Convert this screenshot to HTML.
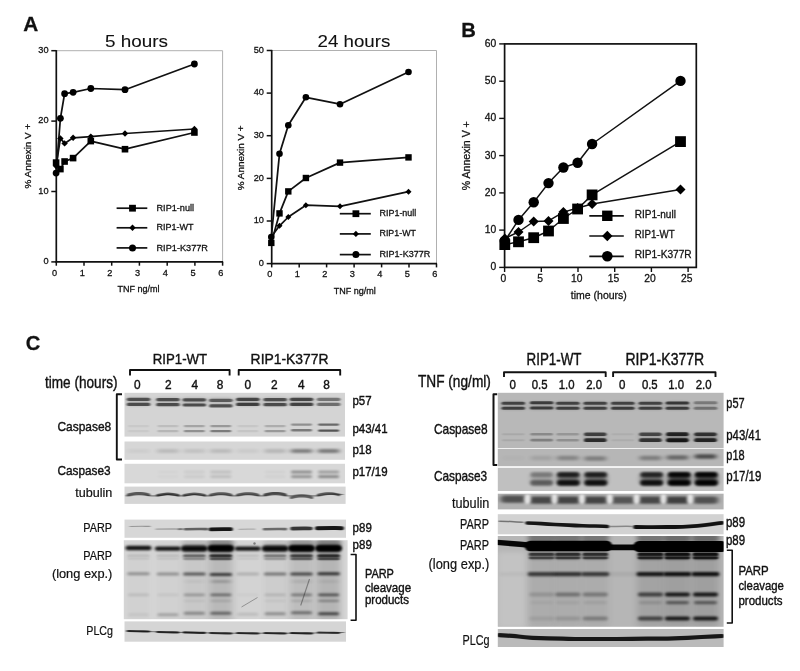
<!DOCTYPE html>
<html><head><meta charset="utf-8"><title>Figure</title>
<style>html,body{margin:0;padding:0;background:#fff}svg{display:block}text{font-family:"Liberation Sans", Arial, Helvetica, sans-serif;fill:#111;stroke:#111;stroke-width:.28px}text.t0{stroke-width:.08px}.pc text{stroke-width:.4px}.pc text.dj{stroke-width:.2px}</style></head><body>
<svg width="800" height="671" viewBox="0 0 800 671">
<defs>
<filter id="b05" filterUnits="userSpaceOnUse" x="100" y="380" width="640" height="280"><feGaussianBlur stdDeviation="0.5"/></filter>
<filter id="b08" filterUnits="userSpaceOnUse" x="100" y="380" width="640" height="280"><feGaussianBlur stdDeviation="1.2 0.75"/></filter>
<filter id="b1" filterUnits="userSpaceOnUse" x="100" y="380" width="640" height="280"><feGaussianBlur stdDeviation="1.8 1.0"/></filter>
<filter id="b15" filterUnits="userSpaceOnUse" x="100" y="380" width="640" height="280"><feGaussianBlur stdDeviation="2.4 1.3"/></filter>
<filter id="b2" filterUnits="userSpaceOnUse" x="100" y="380" width="640" height="280"><feGaussianBlur stdDeviation="2.5 1.5"/></filter>
<filter id="b3" filterUnits="userSpaceOnUse" x="100" y="380" width="640" height="280"><feGaussianBlur stdDeviation="3.5 2.2"/></filter>
</defs>
<rect width="800" height="671" fill="#fff"/>
<text x="23.3" y="31.0" font-size="21" textLength="15.0" lengthAdjust="spacingAndGlyphs" font-weight="bold">A</text>
<text x="461.3" y="37.2" font-size="21" textLength="14.6" lengthAdjust="spacingAndGlyphs" font-weight="bold">B</text>
<text x="25.8" y="350.2" font-size="21" textLength="14.6" lengthAdjust="spacingAndGlyphs" font-weight="bold">C</text>
<line x1="56.3" y1="50.7" x2="222.6" y2="50.7" stroke="#b0b0b0" stroke-width="1"/>
<line x1="222.6" y1="50.7" x2="222.6" y2="261.9" stroke="#b0b0b0" stroke-width="1"/>
<line x1="56.3" y1="50.1" x2="56.3" y2="262.6" stroke="#111" stroke-width="1.7"/>
<line x1="55.5" y1="261.9" x2="223.1" y2="261.9" stroke="#111" stroke-width="1.6"/>
<line x1="51.3" y1="261.9" x2="56.3" y2="261.9" stroke="#111" stroke-width="1.5"/>
<text x="48.5" y="264.2" font-size="9.2" text-anchor="end">0</text>
<line x1="51.3" y1="191.5" x2="56.3" y2="191.5" stroke="#111" stroke-width="1.5"/>
<text x="48.5" y="193.8" font-size="9.2" text-anchor="end">10</text>
<line x1="51.3" y1="121.1" x2="56.3" y2="121.1" stroke="#111" stroke-width="1.5"/>
<text x="48.5" y="123.4" font-size="9.2" text-anchor="end">20</text>
<line x1="51.3" y1="50.7" x2="56.3" y2="50.7" stroke="#111" stroke-width="1.5"/>
<text x="48.5" y="53.0" font-size="9.2" text-anchor="end">30</text>
<line x1="56.3" y1="261.9" x2="56.3" y2="265.7" stroke="#111" stroke-width="1.5"/>
<text x="54.5" y="275.6" font-size="9.2" text-anchor="middle">0</text>
<line x1="84.0" y1="261.9" x2="84.0" y2="265.7" stroke="#111" stroke-width="1.5"/>
<text x="82.2" y="275.6" font-size="9.2" text-anchor="middle">1</text>
<line x1="111.7" y1="261.9" x2="111.7" y2="265.7" stroke="#111" stroke-width="1.5"/>
<text x="109.9" y="275.6" font-size="9.2" text-anchor="middle">2</text>
<line x1="139.4" y1="261.9" x2="139.4" y2="265.7" stroke="#111" stroke-width="1.5"/>
<text x="137.6" y="275.6" font-size="9.2" text-anchor="middle">3</text>
<line x1="167.2" y1="261.9" x2="167.2" y2="265.7" stroke="#111" stroke-width="1.5"/>
<text x="165.4" y="275.6" font-size="9.2" text-anchor="middle">4</text>
<line x1="194.9" y1="261.9" x2="194.9" y2="265.7" stroke="#111" stroke-width="1.5"/>
<text x="193.1" y="275.6" font-size="9.2" text-anchor="middle">5</text>
<line x1="222.6" y1="261.9" x2="222.6" y2="265.7" stroke="#111" stroke-width="1.5"/>
<text x="220.8" y="275.6" font-size="9.2" text-anchor="middle">6</text>
<text x="138.4" y="292.4" font-size="9" text-anchor="middle" textLength="42.0" lengthAdjust="spacingAndGlyphs">TNF ng/ml</text>
<text x="105.0" y="47.3" font-size="17" textLength="63.0" lengthAdjust="spacingAndGlyphs" class="t0">5 hours</text>
<text x="31.1" y="188.5" font-size="9" textLength="64.8" lengthAdjust="spacingAndGlyphs" transform="rotate(-90 31.1 188.5)">% Annexin V +</text>
<polyline fill="none" stroke="#111" stroke-width="1.75" stroke-linejoin="round" points="56.1,166.0 60.4,138.4 64.6,143.4 73.1,137.8 90.8,136.6 125.0,133.5 194.4,129.0"/>
<polyline fill="none" stroke="#111" stroke-width="1.75" stroke-linejoin="round" points="56.1,162.6 60.4,169.1 64.6,161.5 73.1,158.1 90.8,141.1 125.0,149.2 194.4,132.5"/>
<polyline fill="none" stroke="#111" stroke-width="1.75" stroke-linejoin="round" points="56.1,173.1 60.4,118.3 64.6,93.7 73.1,92.3 90.8,88.5 125.0,89.7 194.4,64.0"/>
<path d="M56.1 162.8L59.3 166.0L56.1 169.2L52.9 166.0Z"/>
<path d="M60.4 135.2L63.6 138.4L60.4 141.6L57.2 138.4Z"/>
<path d="M64.6 140.2L67.8 143.4L64.6 146.6L61.4 143.4Z"/>
<path d="M73.1 134.6L76.3 137.8L73.1 141.0L69.9 137.8Z"/>
<path d="M90.8 133.4L94.0 136.6L90.8 139.8L87.6 136.6Z"/>
<path d="M125.0 130.3L128.2 133.5L125.0 136.7L121.8 133.5Z"/>
<path d="M194.4 125.8L197.6 129.0L194.4 132.2L191.2 129.0Z"/>
<rect x="52.8" y="159.3" width="6.6" height="6.6"/>
<rect x="57.1" y="165.8" width="6.6" height="6.6"/>
<rect x="61.3" y="158.2" width="6.6" height="6.6"/>
<rect x="69.8" y="154.8" width="6.6" height="6.6"/>
<rect x="87.5" y="137.8" width="6.6" height="6.6"/>
<rect x="121.7" y="145.9" width="6.6" height="6.6"/>
<rect x="191.1" y="129.2" width="6.6" height="6.6"/>
<circle cx="56.1" cy="173.1" r="3.4"/>
<circle cx="60.4" cy="118.3" r="3.4"/>
<circle cx="64.6" cy="93.7" r="3.4"/>
<circle cx="73.1" cy="92.3" r="3.4"/>
<circle cx="90.8" cy="88.5" r="3.4"/>
<circle cx="125.0" cy="89.7" r="3.4"/>
<circle cx="194.4" cy="64.0" r="3.4"/>
<line x1="116.6" y1="208.2" x2="147.3" y2="208.2" stroke="#111" stroke-width="1.7"/>
<rect x="129.1" y="204.8" width="6.8" height="6.8"/>
<text x="156.5" y="210.8" font-size="9" textLength="37.6" lengthAdjust="spacingAndGlyphs">RIP1-null</text>
<line x1="116.6" y1="227.8" x2="147.3" y2="227.8" stroke="#111" stroke-width="1.7"/>
<path d="M132.5 224.6L135.7 227.8L132.5 231.0L129.3 227.8Z"/>
<text x="156.5" y="230.4" font-size="9" textLength="37.1" lengthAdjust="spacingAndGlyphs">RIP1-WT</text>
<line x1="116.6" y1="247.9" x2="147.3" y2="247.9" stroke="#111" stroke-width="1.7"/>
<circle cx="132.5" cy="247.9" r="3.5"/>
<text x="156.5" y="250.5" font-size="9" textLength="51.5" lengthAdjust="spacingAndGlyphs">RIP1-K377R</text>
<line x1="271.7" y1="50.5" x2="436.5" y2="50.5" stroke="#b0b0b0" stroke-width="1"/>
<line x1="436.5" y1="50.5" x2="436.5" y2="263.6" stroke="#b0b0b0" stroke-width="1"/>
<line x1="271.7" y1="49.9" x2="271.7" y2="264.3" stroke="#111" stroke-width="1.7"/>
<line x1="270.9" y1="263.6" x2="437.0" y2="263.6" stroke="#111" stroke-width="1.6"/>
<line x1="266.7" y1="263.6" x2="271.7" y2="263.6" stroke="#111" stroke-width="1.5"/>
<text x="263.9" y="265.9" font-size="9.2" text-anchor="end">0</text>
<line x1="266.7" y1="221.0" x2="271.7" y2="221.0" stroke="#111" stroke-width="1.5"/>
<text x="263.9" y="223.3" font-size="9.2" text-anchor="end">10</text>
<line x1="266.7" y1="178.4" x2="271.7" y2="178.4" stroke="#111" stroke-width="1.5"/>
<text x="263.9" y="180.7" font-size="9.2" text-anchor="end">20</text>
<line x1="266.7" y1="135.7" x2="271.7" y2="135.7" stroke="#111" stroke-width="1.5"/>
<text x="263.9" y="138.0" font-size="9.2" text-anchor="end">30</text>
<line x1="266.7" y1="93.1" x2="271.7" y2="93.1" stroke="#111" stroke-width="1.5"/>
<text x="263.9" y="95.4" font-size="9.2" text-anchor="end">40</text>
<line x1="266.7" y1="50.5" x2="271.7" y2="50.5" stroke="#111" stroke-width="1.5"/>
<text x="263.9" y="52.8" font-size="9.2" text-anchor="end">50</text>
<line x1="271.7" y1="263.6" x2="271.7" y2="267.4" stroke="#111" stroke-width="1.5"/>
<text x="269.9" y="277.3" font-size="9.2" text-anchor="middle">0</text>
<line x1="299.2" y1="263.6" x2="299.2" y2="267.4" stroke="#111" stroke-width="1.5"/>
<text x="297.4" y="277.3" font-size="9.2" text-anchor="middle">1</text>
<line x1="326.6" y1="263.6" x2="326.6" y2="267.4" stroke="#111" stroke-width="1.5"/>
<text x="324.8" y="277.3" font-size="9.2" text-anchor="middle">2</text>
<line x1="354.1" y1="263.6" x2="354.1" y2="267.4" stroke="#111" stroke-width="1.5"/>
<text x="352.3" y="277.3" font-size="9.2" text-anchor="middle">3</text>
<line x1="381.6" y1="263.6" x2="381.6" y2="267.4" stroke="#111" stroke-width="1.5"/>
<text x="379.8" y="277.3" font-size="9.2" text-anchor="middle">4</text>
<line x1="409.0" y1="263.6" x2="409.0" y2="267.4" stroke="#111" stroke-width="1.5"/>
<text x="407.2" y="277.3" font-size="9.2" text-anchor="middle">5</text>
<line x1="436.5" y1="263.6" x2="436.5" y2="267.4" stroke="#111" stroke-width="1.5"/>
<text x="434.7" y="277.3" font-size="9.2" text-anchor="middle">6</text>
<text x="354.7" y="294.1" font-size="9" text-anchor="middle" textLength="42.0" lengthAdjust="spacingAndGlyphs">TNF ng/ml</text>
<text x="317.5" y="47.3" font-size="17" textLength="72.8" lengthAdjust="spacingAndGlyphs" class="t0">24 hours</text>
<text x="244.4" y="190.2" font-size="9" textLength="64.8" lengthAdjust="spacingAndGlyphs" transform="rotate(-90 244.4 190.2)">% Annexin V +</text>
<polyline fill="none" stroke="#111" stroke-width="1.75" stroke-linejoin="round" points="271.3,236.8 279.5,225.8 288.3,217.0 305.9,205.2 340.0,206.3 408.5,191.7"/>
<polyline fill="none" stroke="#111" stroke-width="1.75" stroke-linejoin="round" points="271.3,242.9 279.5,213.4 288.3,191.4 305.9,178.0 340.0,162.6 408.5,157.4"/>
<polyline fill="none" stroke="#111" stroke-width="1.75" stroke-linejoin="round" points="271.3,237.0 279.5,153.8 288.3,125.3 305.9,97.3 340.0,104.2 408.5,72.0"/>
<path d="M271.3 233.8L274.3 236.8L271.3 239.8L268.3 236.8Z"/>
<path d="M279.5 222.8L282.5 225.8L279.5 228.8L276.5 225.8Z"/>
<path d="M288.3 214.0L291.3 217.0L288.3 220.0L285.3 217.0Z"/>
<path d="M305.9 202.2L308.9 205.2L305.9 208.2L302.9 205.2Z"/>
<path d="M340.0 203.3L343.0 206.3L340.0 209.3L337.0 206.3Z"/>
<path d="M408.5 188.7L411.5 191.7L408.5 194.7L405.5 191.7Z"/>
<rect x="268.1" y="239.7" width="6.4" height="6.4"/>
<rect x="276.3" y="210.2" width="6.4" height="6.4"/>
<rect x="285.1" y="188.2" width="6.4" height="6.4"/>
<rect x="302.7" y="174.8" width="6.4" height="6.4"/>
<rect x="336.8" y="159.4" width="6.4" height="6.4"/>
<rect x="405.3" y="154.2" width="6.4" height="6.4"/>
<circle cx="271.3" cy="237.0" r="3.3"/>
<circle cx="279.5" cy="153.8" r="3.3"/>
<circle cx="288.3" cy="125.3" r="3.3"/>
<circle cx="305.9" cy="97.3" r="3.3"/>
<circle cx="340.0" cy="104.2" r="3.3"/>
<circle cx="408.5" cy="72.0" r="3.3"/>
<line x1="339.8" y1="213.7" x2="370.8" y2="213.7" stroke="#111" stroke-width="1.7"/>
<rect x="352.5" y="210.3" width="6.8" height="6.8"/>
<text x="379.5" y="215.9" font-size="9" textLength="36.8" lengthAdjust="spacingAndGlyphs">RIP1-null</text>
<line x1="339.8" y1="233.9" x2="370.8" y2="233.9" stroke="#111" stroke-width="1.7"/>
<path d="M355.9 230.8L359.0 233.9L355.9 237.0L352.8 233.9Z"/>
<text x="379.5" y="236.1" font-size="9" textLength="36.4" lengthAdjust="spacingAndGlyphs">RIP1-WT</text>
<line x1="339.8" y1="254.6" x2="370.8" y2="254.6" stroke="#111" stroke-width="1.7"/>
<circle cx="355.9" cy="254.6" r="3.5"/>
<text x="379.5" y="256.8" font-size="9" textLength="50.8" lengthAdjust="spacingAndGlyphs">RIP1-K377R</text>
<rect x="504.6" y="43.9" width="191.7" height="223.5" fill="none" stroke="#111" stroke-width="1.7"/>
<line x1="499.2" y1="267.4" x2="504.6" y2="267.4" stroke="#111" stroke-width="1.4"/>
<text x="496.2" y="270.3" font-size="10.3" text-anchor="end">0</text>
<line x1="499.2" y1="230.1" x2="504.6" y2="230.1" stroke="#111" stroke-width="1.4"/>
<text x="496.2" y="233.0" font-size="10.3" text-anchor="end">10</text>
<line x1="499.2" y1="192.9" x2="504.6" y2="192.9" stroke="#111" stroke-width="1.4"/>
<text x="496.2" y="195.8" font-size="10.3" text-anchor="end">20</text>
<line x1="499.2" y1="155.6" x2="504.6" y2="155.6" stroke="#111" stroke-width="1.4"/>
<text x="496.2" y="158.5" font-size="10.3" text-anchor="end">30</text>
<line x1="499.2" y1="118.4" x2="504.6" y2="118.4" stroke="#111" stroke-width="1.4"/>
<text x="496.2" y="121.3" font-size="10.3" text-anchor="end">40</text>
<line x1="499.2" y1="81.2" x2="504.6" y2="81.2" stroke="#111" stroke-width="1.4"/>
<text x="496.2" y="84.1" font-size="10.3" text-anchor="end">50</text>
<line x1="499.2" y1="43.9" x2="504.6" y2="43.9" stroke="#111" stroke-width="1.4"/>
<text x="496.2" y="46.8" font-size="10.3" text-anchor="end">60</text>
<line x1="504.6" y1="267.4" x2="504.6" y2="272.0" stroke="#111" stroke-width="1.4"/>
<text x="503.3" y="281.7" font-size="10.3" text-anchor="middle">0</text>
<line x1="541.3" y1="267.4" x2="541.3" y2="272.0" stroke="#111" stroke-width="1.4"/>
<text x="540.0" y="281.7" font-size="10.3" text-anchor="middle">5</text>
<line x1="578.0" y1="267.4" x2="578.0" y2="272.0" stroke="#111" stroke-width="1.4"/>
<text x="576.7" y="281.7" font-size="10.3" text-anchor="middle">10</text>
<line x1="614.7" y1="267.4" x2="614.7" y2="272.0" stroke="#111" stroke-width="1.4"/>
<text x="613.4" y="281.7" font-size="10.3" text-anchor="middle">15</text>
<line x1="651.4" y1="267.4" x2="651.4" y2="272.0" stroke="#111" stroke-width="1.4"/>
<text x="650.1" y="281.7" font-size="10.3" text-anchor="middle">20</text>
<line x1="688.1" y1="267.4" x2="688.1" y2="272.0" stroke="#111" stroke-width="1.4"/>
<text x="686.8" y="281.7" font-size="10.3" text-anchor="middle">25</text>
<text x="598.8" y="299.3" font-size="10.5" text-anchor="middle" textLength="56.0" lengthAdjust="spacingAndGlyphs">time (hours)</text>
<text x="470.2" y="190.2" font-size="10.2" textLength="69.0" lengthAdjust="spacingAndGlyphs" transform="rotate(-90 470.2 190.2)">% Annexin V +</text>
<polyline fill="none" stroke="#111" stroke-width="1.5" stroke-linejoin="round" points="504.8,238.4 518.5,232.0 533.7,221.5 548.5,220.9 563.4,212.1 577.6,208.0 592.1,204.0 680.5,189.5"/>
<polyline fill="none" stroke="#111" stroke-width="1.5" stroke-linejoin="round" points="504.8,244.6 518.5,241.8 533.7,237.7 548.5,231.0 563.4,218.5 577.6,209.0 592.1,194.9 680.5,141.6"/>
<polyline fill="none" stroke="#111" stroke-width="1.5" stroke-linejoin="round" points="504.8,241.0 518.5,219.9 533.7,202.3 548.5,183.1 563.4,167.5 577.6,162.8 592.1,144.0 680.5,80.9"/>
<path d="M504.8 233.4L509.8 238.4L504.8 243.4L499.8 238.4Z"/>
<path d="M518.5 227.0L523.5 232.0L518.5 237.0L513.5 232.0Z"/>
<path d="M533.7 216.5L538.7 221.5L533.7 226.5L528.7 221.5Z"/>
<path d="M548.5 215.9L553.5 220.9L548.5 225.9L543.5 220.9Z"/>
<path d="M563.4 207.1L568.4 212.1L563.4 217.1L558.4 212.1Z"/>
<path d="M577.6 203.0L582.6 208.0L577.6 213.0L572.6 208.0Z"/>
<path d="M592.1 199.0L597.1 204.0L592.1 209.0L587.1 204.0Z"/>
<path d="M680.5 184.5L685.5 189.5L680.5 194.5L675.5 189.5Z"/>
<rect x="499.4" y="239.2" width="10.8" height="10.8"/>
<rect x="513.1" y="236.4" width="10.8" height="10.8"/>
<rect x="528.3" y="232.3" width="10.8" height="10.8"/>
<rect x="543.1" y="225.6" width="10.8" height="10.8"/>
<rect x="558.0" y="213.1" width="10.8" height="10.8"/>
<rect x="572.2" y="203.6" width="10.8" height="10.8"/>
<rect x="586.7" y="189.5" width="10.8" height="10.8"/>
<rect x="675.1" y="136.2" width="10.8" height="10.8"/>
<circle cx="504.8" cy="241.0" r="5.2"/>
<circle cx="518.5" cy="219.9" r="5.2"/>
<circle cx="533.7" cy="202.3" r="5.2"/>
<circle cx="548.5" cy="183.1" r="5.2"/>
<circle cx="563.4" cy="167.5" r="5.2"/>
<circle cx="577.6" cy="162.8" r="5.2"/>
<circle cx="592.1" cy="144.0" r="5.2"/>
<circle cx="680.5" cy="80.9" r="5.2"/>
<line x1="589.3" y1="215.8" x2="623.8" y2="215.8" stroke="#111" stroke-width="1.7"/>
<rect x="602.1" y="210.6" width="10.4" height="10.4"/>
<text x="634.7" y="218.0" font-size="10" textLength="41.2" lengthAdjust="spacingAndGlyphs">RIP1-null</text>
<line x1="589.3" y1="236.0" x2="623.8" y2="236.0" stroke="#111" stroke-width="1.7"/>
<path d="M607.3 230.8L612.5 236.0L607.3 241.2L602.1 236.0Z"/>
<text x="634.7" y="237.6" font-size="10" textLength="40.0" lengthAdjust="spacingAndGlyphs">RIP1-WT</text>
<line x1="589.3" y1="256.3" x2="623.8" y2="256.3" stroke="#111" stroke-width="1.7"/>
<circle cx="607.3" cy="256.3" r="5.3"/>
<text x="634.7" y="257.9" font-size="10" textLength="57.0" lengthAdjust="spacingAndGlyphs">RIP1-K377R</text>
<clipPath id="cp1"><rect x="124.5" y="392.8" width="220.5" height="43.8"/></clipPath>
<rect x="124.5" y="392.8" width="220.5" height="43.8" fill="#d4d4d4"/>
<g clip-path="url(#cp1)">

<rect x="126.8" y="397.7" width="23.5" height="3.2" rx="1.6" fill="#000" opacity="0.58" filter="url(#b08)"/>
<rect x="156.2" y="398.0" width="23.5" height="3.2" rx="1.6" fill="#000" opacity="0.58" filter="url(#b08)"/>
<rect x="182.6" y="398.2" width="23.5" height="3.2" rx="1.6" fill="#000" opacity="0.58" filter="url(#b08)"/>
<rect x="209.1" y="398.7" width="23.5" height="3.2" rx="1.6" fill="#000" opacity="0.52" filter="url(#b08)"/>
<rect x="236.1" y="397.7" width="23.5" height="3.2" rx="1.6" fill="#000" opacity="0.62" filter="url(#b08)"/>
<rect x="263.4" y="398.0" width="23.5" height="3.2" rx="1.6" fill="#000" opacity="0.58" filter="url(#b08)"/>
<rect x="289.8" y="397.7" width="23.5" height="3.2" rx="1.6" fill="#000" opacity="0.62" filter="url(#b08)"/>
<rect x="316.9" y="397.7" width="23.5" height="3.2" rx="1.6" fill="#000" opacity="0.42" filter="url(#b08)"/>
<rect x="126.8" y="402.8" width="23.5" height="3.2" rx="1.6" fill="#000" opacity="0.60" filter="url(#b08)"/>
<rect x="156.2" y="403.1" width="23.5" height="3.2" rx="1.6" fill="#000" opacity="0.60" filter="url(#b08)"/>
<rect x="182.6" y="403.4" width="23.5" height="3.2" rx="1.6" fill="#000" opacity="0.60" filter="url(#b08)"/>
<rect x="209.1" y="404.3" width="23.5" height="3.2" rx="1.6" fill="#000" opacity="0.60" filter="url(#b08)"/>
<rect x="236.1" y="402.8" width="23.5" height="3.2" rx="1.6" fill="#000" opacity="0.66" filter="url(#b08)"/>
<rect x="263.4" y="403.1" width="23.5" height="3.2" rx="1.6" fill="#000" opacity="0.60" filter="url(#b08)"/>
<rect x="289.8" y="402.8" width="23.5" height="3.2" rx="1.6" fill="#000" opacity="0.64" filter="url(#b08)"/>
<rect x="316.9" y="402.8" width="23.5" height="3.2" rx="1.6" fill="#000" opacity="0.45" filter="url(#b08)"/>
<rect x="126.5" y="397.3" width="24.0" height="9.0" rx="3.0" fill="#000" opacity="0.12" filter="url(#b15)"/>
<rect x="155.9" y="397.3" width="24.0" height="9.0" rx="3.0" fill="#000" opacity="0.12" filter="url(#b15)"/>
<rect x="182.3" y="397.3" width="24.0" height="9.0" rx="3.0" fill="#000" opacity="0.12" filter="url(#b15)"/>
<rect x="208.8" y="397.3" width="24.0" height="9.0" rx="3.0" fill="#000" opacity="0.10" filter="url(#b15)"/>
<rect x="235.8" y="397.3" width="24.0" height="9.0" rx="3.0" fill="#000" opacity="0.14" filter="url(#b15)"/>
<rect x="263.1" y="397.3" width="24.0" height="9.0" rx="3.0" fill="#000" opacity="0.12" filter="url(#b15)"/>
<rect x="289.5" y="397.3" width="24.0" height="9.0" rx="3.0" fill="#000" opacity="0.14" filter="url(#b15)"/>
<rect x="316.6" y="397.3" width="24.0" height="9.0" rx="3.0" fill="#000" opacity="0.05" filter="url(#b15)"/>
<rect x="128.0" y="425.0" width="21.0" height="2.2" rx="1.1" fill="#000" opacity="0.05" filter="url(#b08)"/>
<rect x="157.4" y="425.0" width="21.0" height="2.2" rx="1.1" fill="#000" opacity="0.10" filter="url(#b08)"/>
<rect x="183.8" y="425.0" width="21.0" height="2.2" rx="1.1" fill="#000" opacity="0.22" filter="url(#b08)"/>
<rect x="210.3" y="425.0" width="21.0" height="2.2" rx="1.1" fill="#000" opacity="0.28" filter="url(#b08)"/>
<rect x="237.3" y="425.0" width="21.0" height="2.2" rx="1.1" fill="#000" opacity="0.06" filter="url(#b08)"/>
<rect x="264.6" y="425.0" width="21.0" height="2.2" rx="1.1" fill="#000" opacity="0.18" filter="url(#b08)"/>
<rect x="291.0" y="423.5" width="21.0" height="2.2" rx="1.1" fill="#000" opacity="0.32" filter="url(#b08)"/>
<rect x="318.1" y="423.5" width="21.0" height="2.2" rx="1.1" fill="#000" opacity="0.50" filter="url(#b08)"/>
<rect x="128.0" y="429.9" width="21.0" height="2.4" rx="1.2" fill="#000" opacity="0.05" filter="url(#b08)"/>
<rect x="157.4" y="429.9" width="21.0" height="2.4" rx="1.2" fill="#000" opacity="0.14" filter="url(#b08)"/>
<rect x="183.8" y="429.9" width="21.0" height="2.4" rx="1.2" fill="#000" opacity="0.32" filter="url(#b08)"/>
<rect x="210.3" y="429.9" width="21.0" height="2.4" rx="1.2" fill="#000" opacity="0.42" filter="url(#b08)"/>
<rect x="237.3" y="429.9" width="21.0" height="2.4" rx="1.2" fill="#000" opacity="0.07" filter="url(#b08)"/>
<rect x="264.6" y="429.9" width="21.0" height="2.4" rx="1.2" fill="#000" opacity="0.28" filter="url(#b08)"/>
<rect x="291.0" y="429.1" width="21.0" height="2.4" rx="1.2" fill="#000" opacity="0.42" filter="url(#b08)"/>
<rect x="318.1" y="429.4" width="21.0" height="2.4" rx="1.2" fill="#000" opacity="0.60" filter="url(#b08)"/>
</g>
<clipPath id="cp2"><rect x="124.5" y="441.5" width="220.5" height="18.3"/></clipPath>
<rect x="124.5" y="441.5" width="220.5" height="18.3" fill="#d6d6d6"/>
<g clip-path="url(#cp2)">

<rect x="127.5" y="449.0" width="22.0" height="4.0" rx="2.0" fill="#000" opacity="0.04" filter="url(#b15)"/>
<rect x="156.9" y="449.0" width="22.0" height="4.0" rx="2.0" fill="#000" opacity="0.12" filter="url(#b15)"/>
<rect x="183.3" y="449.0" width="22.0" height="4.0" rx="2.0" fill="#000" opacity="0.09" filter="url(#b15)"/>
<rect x="209.8" y="449.0" width="22.0" height="4.0" rx="2.0" fill="#000" opacity="0.12" filter="url(#b15)"/>
<rect x="236.8" y="449.0" width="22.0" height="4.0" rx="2.0" fill="#000" opacity="0.05" filter="url(#b15)"/>
<rect x="264.1" y="449.0" width="22.0" height="4.0" rx="2.0" fill="#000" opacity="0.14" filter="url(#b15)"/>
<rect x="290.5" y="449.0" width="22.0" height="4.0" rx="2.0" fill="#000" opacity="0.40" filter="url(#b15)"/>
<rect x="317.6" y="449.0" width="22.0" height="4.0" rx="2.0" fill="#000" opacity="0.42" filter="url(#b15)"/>
</g>
<clipPath id="cp3"><rect x="124.5" y="463.8" width="220.5" height="19.5"/></clipPath>
<rect x="124.5" y="463.8" width="220.5" height="19.5" fill="#d8d8d8"/>
<g clip-path="url(#cp3)">

<rect x="157.4" y="470.7" width="21.0" height="2.6" rx="1.3" fill="#000" opacity="0.02" filter="url(#b1)"/>
<rect x="183.8" y="470.7" width="21.0" height="2.6" rx="1.3" fill="#000" opacity="0.06" filter="url(#b1)"/>
<rect x="210.3" y="470.7" width="21.0" height="2.6" rx="1.3" fill="#000" opacity="0.12" filter="url(#b1)"/>
<rect x="264.6" y="470.7" width="21.0" height="2.6" rx="1.3" fill="#000" opacity="0.03" filter="url(#b1)"/>
<rect x="291.0" y="470.7" width="21.0" height="2.6" rx="1.3" fill="#000" opacity="0.38" filter="url(#b1)"/>
<rect x="318.1" y="470.7" width="21.0" height="2.6" rx="1.3" fill="#000" opacity="0.30" filter="url(#b1)"/>
<rect x="157.4" y="475.3" width="21.0" height="2.6" rx="1.3" fill="#000" opacity="0.02" filter="url(#b1)"/>
<rect x="183.8" y="475.3" width="21.0" height="2.6" rx="1.3" fill="#000" opacity="0.06" filter="url(#b1)"/>
<rect x="210.3" y="475.3" width="21.0" height="2.6" rx="1.3" fill="#000" opacity="0.12" filter="url(#b1)"/>
<rect x="264.6" y="475.3" width="21.0" height="2.6" rx="1.3" fill="#000" opacity="0.03" filter="url(#b1)"/>
<rect x="291.0" y="475.3" width="21.0" height="2.6" rx="1.3" fill="#000" opacity="0.33" filter="url(#b1)"/>
<rect x="318.1" y="475.3" width="21.0" height="2.6" rx="1.3" fill="#000" opacity="0.38" filter="url(#b1)"/>
</g>
<clipPath id="cp4"><rect x="124.5" y="486.6" width="221.1" height="17.3"/></clipPath>
<rect x="124.5" y="486.6" width="221.1" height="17.3" fill="#d5d5d5"/>
<g clip-path="url(#cp4)">
<path d="M126.0 495.5 Q125.5 496.6 132.0 495.3 Q138.5 494.0 146.7 495.3 Q154.9 496.6 161.4 495.3 Q167.9 494.0 174.6 495.3 Q181.3 496.6 187.8 495.3 Q194.3 494.0 201.1 495.3 Q207.8 496.6 214.3 495.3 Q220.8 494.0 227.8 495.3 Q234.8 496.6 241.3 495.3 Q247.8 494.0 255.0 495.3 Q262.1 496.6 268.6 495.3 Q275.1 494.0 281.8 495.3 Q288.5 496.6 295.0 495.3 Q301.5 494.0 308.6 495.3 Q315.6 496.6 322.1 495.3 Q328.6 494.0 335.8 494.2 L343.0 494.5" fill="none" stroke="#000" stroke-width="1.2" stroke-linecap="round" opacity="0.45" filter="url(#b08)"/><path d="M128.0 494.7 Q133.2 493.4 135.9 493.3 Q138.5 493.2 141.1 493.3 Q143.8 493.4 146.4 494.0 L149.0 494.7" fill="none" stroke="#000" stroke-width="2.5" stroke-linecap="round" opacity="0.59" filter="url(#b08)"/><path d="M157.4 495.3 Q162.7 494.0 165.3 493.9 Q167.9 493.8 170.5 493.9 Q173.2 494.0 175.8 494.6 L178.4 495.3" fill="none" stroke="#000" stroke-width="2.5" stroke-linecap="round" opacity="0.65" filter="url(#b08)"/><path d="M183.8 495.3 Q189.1 494.0 191.7 493.9 Q194.3 493.8 196.9 493.9 Q199.6 494.0 202.2 494.6 L204.8 495.3" fill="none" stroke="#000" stroke-width="2.5" stroke-linecap="round" opacity="0.59" filter="url(#b08)"/><path d="M210.3 494.9 Q215.6 493.6 218.2 493.5 Q220.8 493.4 223.4 493.5 Q226.1 493.6 228.7 494.2 L231.3 494.9" fill="none" stroke="#000" stroke-width="2.5" stroke-linecap="round" opacity="0.59" filter="url(#b08)"/><path d="M237.3 494.9 Q242.6 493.6 245.2 493.5 Q247.8 493.4 250.4 493.5 Q253.1 493.6 255.7 494.2 L258.3 494.9" fill="none" stroke="#000" stroke-width="2.5" stroke-linecap="round" opacity="0.59" filter="url(#b08)"/><path d="M264.6 494.7 Q269.9 493.4 272.5 493.3 Q275.1 493.2 277.7 493.3 Q280.4 493.4 283.0 494.0 L285.6 494.7" fill="none" stroke="#000" stroke-width="2.5" stroke-linecap="round" opacity="0.66" filter="url(#b08)"/><path d="M291.0 497.7 Q296.2 496.4 298.9 496.3 Q301.5 496.2 304.1 496.3 Q306.8 496.4 309.4 497.0 L312.0 497.7" fill="none" stroke="#000" stroke-width="2.5" stroke-linecap="round" opacity="0.57" filter="url(#b08)"/><path d="M318.1 495.0 Q323.4 493.7 326.0 493.6 Q328.6 493.5 331.2 493.6 Q333.9 493.7 336.5 494.4 L339.1 495.0" fill="none" stroke="#000" stroke-width="2.5" stroke-linecap="round" opacity="0.59" filter="url(#b08)"/>
</g>
<clipPath id="cp5"><rect x="124.5" y="519.6" width="221.5" height="18.2"/></clipPath>
<rect x="124.5" y="519.6" width="221.5" height="18.2" fill="#d7d7d7"/>
<g clip-path="url(#cp5)">
<path d="M130.0 526.5 Q140.0 526.2 145.0 526.3 L150.0 526.4" fill="none" stroke="#000" stroke-width="1.2" stroke-linecap="round" opacity="0.30" filter="url(#b08)"/><path d="M156.0 529.2 Q168.5 528.9 174.8 529.0 L181.0 529.1" fill="none" stroke="#000" stroke-width="1.3" stroke-linecap="round" opacity="0.25" filter="url(#b08)"/><path d="M179.0 529.3 Q180.8 529.0 181.6 529.1 L182.5 529.2" fill="none" stroke="#000" stroke-width="2" stroke-linecap="round" opacity="0.35" filter="url(#b08)"/><path d="M185.0 529.2 Q196.0 528.9 201.5 529.0 L207.0 529.1" fill="none" stroke="#000" stroke-width="2.6" stroke-linecap="round" opacity="0.55" filter="url(#b08)"/><path d="M210.5 529.3 Q220.8 529.0 225.9 529.1 L231.0 529.2" fill="none" stroke="#000" stroke-width="3.8" stroke-linecap="round" opacity="0.90" filter="url(#b08)"/><path d="M239.0 529.3 Q247.0 529.0 251.0 529.1 L255.0 529.2" fill="none" stroke="#000" stroke-width="1.2" stroke-linecap="round" opacity="0.20" filter="url(#b08)"/><path d="M264.0 529.2 Q275.0 528.9 280.5 529.0 L286.0 529.1" fill="none" stroke="#000" stroke-width="2.6" stroke-linecap="round" opacity="0.50" filter="url(#b08)"/><path d="M292.0 528.6 Q301.5 528.3 306.2 528.4 L311.0 528.5" fill="none" stroke="#000" stroke-width="3.6" stroke-linecap="round" opacity="0.75" filter="url(#b08)"/><path d="M317.0 528.3 Q329.5 528.0 335.8 528.1 L342.0 528.2" fill="none" stroke="#000" stroke-width="4.0" stroke-linecap="round" opacity="0.90" filter="url(#b08)"/>
</g>
<clipPath id="cp6"><rect x="123.8" y="540.2" width="223.8" height="79.0"/></clipPath>
<rect x="123.8" y="540.2" width="223.8" height="79.0" fill="#d8d8d8"/>
<g clip-path="url(#cp6)">
<path d="M241.5 607L257.500 597.5" stroke="#333" stroke-width=".8" opacity=".5" fill="none"/><path d="M300.700 605.5L309.500 579" stroke="#333" stroke-width="1.1" opacity=".45" fill="none"/><circle cx="254.500" cy="543.5" r="1.2" fill="#444" opacity=".6"/>
<rect x="126.0" y="542.0" width="25.0" height="80.0" rx="3.0" fill="#000" opacity="0.03" filter="url(#b3)"/>
<rect x="155.4" y="542.0" width="25.0" height="80.0" rx="3.0" fill="#000" opacity="0.03" filter="url(#b3)"/>
<rect x="181.8" y="542.0" width="25.0" height="80.0" rx="3.0" fill="#000" opacity="0.07" filter="url(#b3)"/>
<rect x="208.3" y="542.0" width="25.0" height="80.0" rx="3.0" fill="#000" opacity="0.14" filter="url(#b3)"/>
<rect x="235.3" y="542.0" width="25.0" height="80.0" rx="3.0" fill="#000" opacity="0.02" filter="url(#b3)"/>
<rect x="262.6" y="542.0" width="25.0" height="80.0" rx="3.0" fill="#000" opacity="0.05" filter="url(#b3)"/>
<rect x="289.0" y="542.0" width="25.0" height="80.0" rx="3.0" fill="#000" opacity="0.12" filter="url(#b3)"/>
<rect x="316.1" y="542.0" width="25.0" height="80.0" rx="3.0" fill="#000" opacity="0.16" filter="url(#b3)"/>
<rect x="181.8" y="539.5" width="25.0" height="7.0" rx="3.0" fill="#000" opacity="0.10" filter="url(#b15)"/>
<rect x="208.3" y="539.5" width="25.0" height="7.0" rx="3.0" fill="#000" opacity="0.30" filter="url(#b15)"/>
<rect x="262.6" y="539.5" width="25.0" height="7.0" rx="3.0" fill="#000" opacity="0.08" filter="url(#b15)"/>
<rect x="289.0" y="539.5" width="25.0" height="7.0" rx="3.0" fill="#000" opacity="0.25" filter="url(#b15)"/>
<rect x="316.1" y="539.5" width="25.0" height="7.0" rx="3.0" fill="#000" opacity="0.35" filter="url(#b15)"/>
<rect x="125.5" y="545.8" width="26.0" height="4.4" rx="2.2" fill="#000" opacity="0.90" filter="url(#b1)"/>
<rect x="154.9" y="546.4" width="26.0" height="4.4" rx="2.2" fill="#000" opacity="0.90" filter="url(#b1)"/>
<rect x="181.3" y="546.4" width="26.0" height="4.4" rx="2.2" fill="#000" opacity="0.93" filter="url(#b1)"/>
<rect x="207.8" y="546.1" width="26.0" height="4.4" rx="2.2" fill="#000" opacity="0.95" filter="url(#b1)"/>
<rect x="234.8" y="546.4" width="26.0" height="4.4" rx="2.2" fill="#000" opacity="0.90" filter="url(#b1)"/>
<rect x="262.1" y="546.4" width="26.0" height="4.4" rx="2.2" fill="#000" opacity="0.93" filter="url(#b1)"/>
<rect x="288.5" y="546.1" width="26.0" height="4.4" rx="2.2" fill="#000" opacity="0.95" filter="url(#b1)"/>
<rect x="315.6" y="546.1" width="26.0" height="4.4" rx="2.2" fill="#000" opacity="0.96" filter="url(#b1)"/>
<rect x="181.8" y="544.9" width="25.0" height="7.2" rx="3.0" fill="#000" opacity="0.60" filter="url(#b1)"/>
<rect x="208.3" y="544.9" width="25.0" height="7.2" rx="3.0" fill="#000" opacity="0.92" filter="url(#b1)"/>
<rect x="262.6" y="544.9" width="25.0" height="7.2" rx="3.0" fill="#000" opacity="0.60" filter="url(#b1)"/>
<rect x="289.0" y="544.9" width="25.0" height="7.2" rx="3.0" fill="#000" opacity="0.92" filter="url(#b1)"/>
<rect x="316.1" y="544.9" width="25.0" height="7.2" rx="3.0" fill="#000" opacity="0.95" filter="url(#b1)"/>
<rect x="127.0" y="553.9" width="23.0" height="5.4" rx="2.7" fill="#000" opacity="0.05" filter="url(#b1)"/>
<rect x="156.4" y="553.9" width="23.0" height="5.4" rx="2.7" fill="#000" opacity="0.05" filter="url(#b1)"/>
<rect x="182.8" y="553.9" width="23.0" height="5.4" rx="2.7" fill="#000" opacity="0.30" filter="url(#b1)"/>
<rect x="209.3" y="553.9" width="23.0" height="5.4" rx="2.7" fill="#000" opacity="0.55" filter="url(#b1)"/>
<rect x="236.3" y="553.9" width="23.0" height="5.4" rx="2.7" fill="#000" opacity="0.04" filter="url(#b1)"/>
<rect x="263.6" y="553.9" width="23.0" height="5.4" rx="2.7" fill="#000" opacity="0.25" filter="url(#b1)"/>
<rect x="290.0" y="553.9" width="23.0" height="5.4" rx="2.7" fill="#000" opacity="0.50" filter="url(#b1)"/>
<rect x="317.1" y="553.9" width="23.0" height="5.4" rx="2.7" fill="#000" opacity="0.60" filter="url(#b1)"/>
<rect x="127.5" y="554.5" width="22.0" height="2.2" rx="1.1" fill="#000" opacity="0.03" filter="url(#b08)"/>
<rect x="156.9" y="554.5" width="22.0" height="2.2" rx="1.1" fill="#000" opacity="0.03" filter="url(#b08)"/>
<rect x="183.3" y="554.5" width="22.0" height="2.2" rx="1.1" fill="#000" opacity="0.25" filter="url(#b08)"/>
<rect x="209.8" y="554.5" width="22.0" height="2.2" rx="1.1" fill="#000" opacity="0.45" filter="url(#b08)"/>
<rect x="236.8" y="554.5" width="22.0" height="2.2" rx="1.1" fill="#000" opacity="0.03" filter="url(#b08)"/>
<rect x="264.1" y="554.5" width="22.0" height="2.2" rx="1.1" fill="#000" opacity="0.20" filter="url(#b08)"/>
<rect x="290.5" y="554.5" width="22.0" height="2.2" rx="1.1" fill="#000" opacity="0.35" filter="url(#b08)"/>
<rect x="317.6" y="554.5" width="22.0" height="2.2" rx="1.1" fill="#000" opacity="0.45" filter="url(#b08)"/>
<rect x="127.5" y="558.2" width="22.0" height="2.0" rx="1.0" fill="#000" opacity="0.02" filter="url(#b08)"/>
<rect x="156.9" y="558.2" width="22.0" height="2.0" rx="1.0" fill="#000" opacity="0.02" filter="url(#b08)"/>
<rect x="183.3" y="558.2" width="22.0" height="2.0" rx="1.0" fill="#000" opacity="0.15" filter="url(#b08)"/>
<rect x="209.8" y="558.2" width="22.0" height="2.0" rx="1.0" fill="#000" opacity="0.35" filter="url(#b08)"/>
<rect x="236.8" y="558.2" width="22.0" height="2.0" rx="1.0" fill="#000" opacity="0.02" filter="url(#b08)"/>
<rect x="264.1" y="558.2" width="22.0" height="2.0" rx="1.0" fill="#000" opacity="0.12" filter="url(#b08)"/>
<rect x="290.5" y="558.2" width="22.0" height="2.0" rx="1.0" fill="#000" opacity="0.30" filter="url(#b08)"/>
<rect x="317.6" y="558.2" width="22.0" height="2.0" rx="1.0" fill="#000" opacity="0.40" filter="url(#b08)"/>
<rect x="127.2" y="572.2" width="22.5" height="3.0" rx="1.5" fill="#000" opacity="0.30" filter="url(#b1)"/>
<rect x="156.7" y="572.5" width="22.5" height="3.0" rx="1.5" fill="#000" opacity="0.30" filter="url(#b1)"/>
<rect x="183.1" y="572.5" width="22.5" height="3.0" rx="1.5" fill="#000" opacity="0.55" filter="url(#b1)"/>
<rect x="209.6" y="573.0" width="22.5" height="3.0" rx="1.5" fill="#000" opacity="0.68" filter="url(#b1)"/>
<rect x="236.6" y="572.5" width="22.5" height="3.0" rx="1.5" fill="#000" opacity="0.16" filter="url(#b1)"/>
<rect x="263.9" y="572.5" width="22.5" height="3.0" rx="1.5" fill="#000" opacity="0.42" filter="url(#b1)"/>
<rect x="290.2" y="572.5" width="22.5" height="3.0" rx="1.5" fill="#000" opacity="0.62" filter="url(#b1)"/>
<rect x="317.4" y="572.2" width="22.5" height="3.0" rx="1.5" fill="#000" opacity="0.72" filter="url(#b1)"/>
<rect x="184.3" y="580.0" width="20.0" height="3.0" rx="1.5" fill="#000" opacity="0.04" filter="url(#b15)"/>
<rect x="210.8" y="580.0" width="20.0" height="3.0" rx="1.5" fill="#000" opacity="0.18" filter="url(#b15)"/>
<rect x="291.5" y="580.0" width="20.0" height="3.0" rx="1.5" fill="#000" opacity="0.08" filter="url(#b15)"/>
<rect x="318.6" y="580.0" width="20.0" height="3.0" rx="1.5" fill="#000" opacity="0.06" filter="url(#b15)"/>
<rect x="128.0" y="593.6" width="21.0" height="2.6" rx="1.3" fill="#000" opacity="0.10" filter="url(#b1)"/>
<rect x="157.4" y="593.6" width="21.0" height="2.6" rx="1.3" fill="#000" opacity="0.06" filter="url(#b1)"/>
<rect x="183.8" y="593.6" width="21.0" height="2.6" rx="1.3" fill="#000" opacity="0.25" filter="url(#b1)"/>
<rect x="210.3" y="593.6" width="21.0" height="2.6" rx="1.3" fill="#000" opacity="0.42" filter="url(#b1)"/>
<rect x="237.3" y="593.6" width="21.0" height="2.6" rx="1.3" fill="#000" opacity="0.03" filter="url(#b1)"/>
<rect x="264.6" y="593.6" width="21.0" height="2.6" rx="1.3" fill="#000" opacity="0.12" filter="url(#b1)"/>
<rect x="291.0" y="593.6" width="21.0" height="2.6" rx="1.3" fill="#000" opacity="0.36" filter="url(#b1)"/>
<rect x="318.1" y="593.6" width="21.0" height="2.6" rx="1.3" fill="#000" opacity="0.55" filter="url(#b1)"/>
<rect x="183.8" y="599.7" width="21.0" height="2.2" rx="1.1" fill="#000" opacity="0.06" filter="url(#b1)"/>
<rect x="210.3" y="599.7" width="21.0" height="2.2" rx="1.1" fill="#000" opacity="0.12" filter="url(#b1)"/>
<rect x="264.6" y="599.7" width="21.0" height="2.2" rx="1.1" fill="#000" opacity="0.05" filter="url(#b1)"/>
<rect x="291.0" y="599.7" width="21.0" height="2.2" rx="1.1" fill="#000" opacity="0.12" filter="url(#b1)"/>
<rect x="318.1" y="599.7" width="21.0" height="2.2" rx="1.1" fill="#000" opacity="0.30" filter="url(#b1)"/>
<rect x="128.0" y="613.3" width="21.0" height="3.0" rx="1.5" fill="#000" opacity="0.06" filter="url(#b1)"/>
<rect x="157.4" y="613.3" width="21.0" height="3.0" rx="1.5" fill="#000" opacity="0.22" filter="url(#b1)"/>
<rect x="183.8" y="611.8" width="21.0" height="3.0" rx="1.5" fill="#000" opacity="0.32" filter="url(#b1)"/>
<rect x="210.3" y="611.8" width="21.0" height="3.0" rx="1.5" fill="#000" opacity="0.46" filter="url(#b1)"/>
<rect x="237.3" y="612.8" width="21.0" height="3.0" rx="1.5" fill="#000" opacity="0.10" filter="url(#b1)"/>
<rect x="264.6" y="612.3" width="21.0" height="3.0" rx="1.5" fill="#000" opacity="0.30" filter="url(#b1)"/>
<rect x="291.0" y="611.3" width="21.0" height="3.0" rx="1.5" fill="#000" opacity="0.42" filter="url(#b1)"/>
<rect x="318.1" y="612.3" width="21.0" height="3.0" rx="1.5" fill="#000" opacity="0.62" filter="url(#b1)"/>
</g>
<clipPath id="cp7"><rect x="124.5" y="621.4" width="221.5" height="20.3"/></clipPath>
<rect x="124.5" y="621.4" width="221.5" height="20.3" fill="#d5d5d5"/>
<g clip-path="url(#cp7)">
<path d="M126.0 631.0 Q138.5 631.2 153.2 631.7 Q167.9 632.2 181.1 632.4 Q194.3 632.6 207.6 632.9 Q220.8 633.2 234.3 633.2 Q247.8 633.2 261.5 633.2 Q275.1 633.2 288.3 633.2 Q301.5 633.2 315.1 633.0 Q328.6 632.7 336.3 632.6 L344.0 632.5" fill="none" stroke="#000" stroke-width="1.0" stroke-linecap="round" opacity="0.50" filter="url(#b08)"/><path d="M128.0 631.0 Q138.5 631.2 143.8 631.4 L149.0 631.5" fill="none" stroke="#000" stroke-width="2.2" stroke-linecap="round" opacity="0.76" filter="url(#b08)"/><path d="M157.4 632.0 Q167.9 632.2 173.2 632.4 L178.4 632.5" fill="none" stroke="#000" stroke-width="2.2" stroke-linecap="round" opacity="0.76" filter="url(#b08)"/><path d="M183.8 632.4 Q194.3 632.6 199.6 632.8 L204.8 632.9" fill="none" stroke="#000" stroke-width="2.2" stroke-linecap="round" opacity="0.74" filter="url(#b08)"/><path d="M210.3 633.0 Q220.8 633.2 226.1 633.4 L231.3 633.5" fill="none" stroke="#000" stroke-width="2.2" stroke-linecap="round" opacity="0.74" filter="url(#b08)"/><path d="M237.3 633.0 Q247.8 633.2 253.1 633.4 L258.3 633.5" fill="none" stroke="#000" stroke-width="2.2" stroke-linecap="round" opacity="0.74" filter="url(#b08)"/><path d="M264.6 633.0 Q275.1 633.2 280.4 633.4 L285.6 633.5" fill="none" stroke="#000" stroke-width="2.2" stroke-linecap="round" opacity="0.74" filter="url(#b08)"/><path d="M291.0 633.0 Q301.5 633.2 306.8 633.4 L312.0 633.5" fill="none" stroke="#000" stroke-width="2.2" stroke-linecap="round" opacity="0.78" filter="url(#b08)"/><path d="M318.1 632.5 Q328.6 632.7 333.9 632.9 L339.1 633.0" fill="none" stroke="#000" stroke-width="2.2" stroke-linecap="round" opacity="0.68" filter="url(#b08)"/>
</g>
<clipPath id="cp11"><rect x="497.8" y="392.8" width="225.8" height="55.2"/></clipPath>
<rect x="497.8" y="392.8" width="225.8" height="55.2" fill="#b8b8b8"/>
<g clip-path="url(#cp11)">

<rect x="501.5" y="401.7" width="23.5" height="3.0" rx="1.5" fill="#000" opacity="0.60" filter="url(#b08)"/>
<rect x="529.9" y="401.2" width="23.5" height="3.0" rx="1.5" fill="#000" opacity="0.64" filter="url(#b08)"/>
<rect x="556.0" y="401.7" width="23.5" height="3.0" rx="1.5" fill="#000" opacity="0.60" filter="url(#b08)"/>
<rect x="583.5" y="401.7" width="23.5" height="3.0" rx="1.5" fill="#000" opacity="0.60" filter="url(#b08)"/>
<rect x="611.0" y="401.7" width="23.5" height="3.0" rx="1.5" fill="#000" opacity="0.60" filter="url(#b08)"/>
<rect x="638.6" y="401.7" width="23.5" height="3.0" rx="1.5" fill="#000" opacity="0.60" filter="url(#b08)"/>
<rect x="665.6" y="401.4" width="23.5" height="3.0" rx="1.5" fill="#000" opacity="0.66" filter="url(#b08)"/>
<rect x="693.8" y="401.2" width="23.5" height="3.0" rx="1.5" fill="#000" opacity="0.30" filter="url(#b08)"/>
<rect x="501.5" y="406.8" width="23.5" height="3.0" rx="1.5" fill="#000" opacity="0.62" filter="url(#b08)"/>
<rect x="529.9" y="406.5" width="23.5" height="3.0" rx="1.5" fill="#000" opacity="0.64" filter="url(#b08)"/>
<rect x="556.0" y="406.8" width="23.5" height="3.0" rx="1.5" fill="#000" opacity="0.62" filter="url(#b08)"/>
<rect x="583.5" y="406.8" width="23.5" height="3.0" rx="1.5" fill="#000" opacity="0.62" filter="url(#b08)"/>
<rect x="611.0" y="406.8" width="23.5" height="3.0" rx="1.5" fill="#000" opacity="0.64" filter="url(#b08)"/>
<rect x="638.6" y="406.8" width="23.5" height="3.0" rx="1.5" fill="#000" opacity="0.62" filter="url(#b08)"/>
<rect x="665.6" y="406.8" width="23.5" height="3.0" rx="1.5" fill="#000" opacity="0.64" filter="url(#b08)"/>
<rect x="693.8" y="406.8" width="23.5" height="3.0" rx="1.5" fill="#000" opacity="0.35" filter="url(#b08)"/>
<rect x="501.3" y="401.3" width="24.0" height="9.0" rx="3.0" fill="#000" opacity="0.10" filter="url(#b15)"/>
<rect x="529.6" y="401.3" width="24.0" height="9.0" rx="3.0" fill="#000" opacity="0.10" filter="url(#b15)"/>
<rect x="555.8" y="401.3" width="24.0" height="9.0" rx="3.0" fill="#000" opacity="0.10" filter="url(#b15)"/>
<rect x="583.3" y="401.3" width="24.0" height="9.0" rx="3.0" fill="#000" opacity="0.10" filter="url(#b15)"/>
<rect x="610.8" y="401.3" width="24.0" height="9.0" rx="3.0" fill="#000" opacity="0.10" filter="url(#b15)"/>
<rect x="638.4" y="401.3" width="24.0" height="9.0" rx="3.0" fill="#000" opacity="0.10" filter="url(#b15)"/>
<rect x="665.4" y="401.3" width="24.0" height="9.0" rx="3.0" fill="#000" opacity="0.12" filter="url(#b15)"/>
<rect x="693.5" y="401.3" width="24.0" height="9.0" rx="3.0" fill="#000" opacity="0.05" filter="url(#b15)"/>
<rect x="502.0" y="433.2" width="22.5" height="2.0" rx="1.0" fill="#000" opacity="0.08" filter="url(#b08)"/>
<rect x="530.4" y="432.9" width="22.5" height="2.6" rx="1.3" fill="#000" opacity="0.25" filter="url(#b08)"/>
<rect x="556.5" y="433.0" width="22.5" height="2.4" rx="1.2" fill="#000" opacity="0.18" filter="url(#b08)"/>
<rect x="584.0" y="432.4" width="22.5" height="3.5" rx="1.8" fill="#000" opacity="0.62" filter="url(#b08)"/>
<rect x="611.5" y="433.2" width="22.5" height="2.0" rx="1.0" fill="#000" opacity="0.05" filter="url(#b08)"/>
<rect x="639.1" y="432.4" width="22.5" height="3.5" rx="1.8" fill="#000" opacity="0.58" filter="url(#b08)"/>
<rect x="666.1" y="432.3" width="22.5" height="3.8" rx="1.9" fill="#000" opacity="0.76" filter="url(#b08)"/>
<rect x="694.2" y="432.4" width="22.5" height="3.6" rx="1.8" fill="#000" opacity="0.66" filter="url(#b08)"/>
<rect x="502.0" y="439.2" width="22.5" height="2.0" rx="1.0" fill="#000" opacity="0.08" filter="url(#b08)"/>
<rect x="530.4" y="438.8" width="22.5" height="2.8" rx="1.4" fill="#000" opacity="0.30" filter="url(#b08)"/>
<rect x="556.5" y="439.0" width="22.5" height="2.4" rx="1.2" fill="#000" opacity="0.22" filter="url(#b08)"/>
<rect x="584.0" y="438.3" width="22.5" height="3.7" rx="1.9" fill="#000" opacity="0.74" filter="url(#b08)"/>
<rect x="611.5" y="439.2" width="22.5" height="2.0" rx="1.0" fill="#000" opacity="0.06" filter="url(#b08)"/>
<rect x="639.1" y="438.3" width="22.5" height="3.7" rx="1.9" fill="#000" opacity="0.70" filter="url(#b08)"/>
<rect x="666.1" y="438.2" width="22.5" height="4.0" rx="2.0" fill="#000" opacity="0.84" filter="url(#b08)"/>
<rect x="694.2" y="438.3" width="22.5" height="3.8" rx="1.9" fill="#000" opacity="0.76" filter="url(#b08)"/>
<rect x="583.8" y="432.7" width="23.0" height="9.0" rx="3.0" fill="#000" opacity="0.10" filter="url(#b15)"/>
<rect x="638.9" y="432.7" width="23.0" height="9.0" rx="3.0" fill="#000" opacity="0.10" filter="url(#b15)"/>
<rect x="665.9" y="432.7" width="23.0" height="9.0" rx="3.0" fill="#000" opacity="0.25" filter="url(#b15)"/>
<rect x="694.0" y="432.7" width="23.0" height="9.0" rx="3.0" fill="#000" opacity="0.25" filter="url(#b15)"/>
</g>
<clipPath id="cp12"><rect x="497.8" y="448.8" width="225.8" height="17.4"/></clipPath>
<rect x="497.8" y="448.8" width="225.8" height="17.4" fill="#b6b6b6"/>
<g clip-path="url(#cp12)">

<rect x="502.3" y="455.8" width="22.0" height="4.4" rx="2.2" fill="#000" opacity="0.02" filter="url(#b15)"/>
<rect x="530.6" y="455.8" width="22.0" height="4.4" rx="2.2" fill="#000" opacity="0.10" filter="url(#b15)"/>
<rect x="556.8" y="455.8" width="22.0" height="4.4" rx="2.2" fill="#000" opacity="0.26" filter="url(#b15)"/>
<rect x="584.3" y="456.3" width="22.0" height="4.4" rx="2.2" fill="#000" opacity="0.30" filter="url(#b15)"/>
<rect x="639.4" y="455.8" width="22.0" height="4.4" rx="2.2" fill="#000" opacity="0.30" filter="url(#b15)"/>
<rect x="666.4" y="455.3" width="22.0" height="4.4" rx="2.2" fill="#000" opacity="0.42" filter="url(#b15)"/>
<rect x="694.5" y="454.3" width="22.0" height="4.4" rx="2.2" fill="#000" opacity="0.58" filter="url(#b15)"/>
</g>
<clipPath id="cp13"><rect x="497.8" y="467.8" width="225.8" height="23.2"/></clipPath>
<rect x="497.8" y="467.8" width="225.8" height="23.2" fill="#c0c0c0"/>
<g clip-path="url(#cp13)">

<rect x="530.4" y="472.0" width="22.5" height="5.2" rx="2.6" fill="#000" opacity="0.28" filter="url(#b1)"/>
<rect x="557.0" y="472.0" width="22.5" height="5.2" rx="2.6" fill="#000" opacity="0.74" filter="url(#b1)"/>
<rect x="584.5" y="472.0" width="22.5" height="5.2" rx="2.6" fill="#000" opacity="0.74" filter="url(#b1)"/>
<rect x="640.4" y="472.0" width="22.5" height="5.2" rx="2.6" fill="#000" opacity="0.70" filter="url(#b1)"/>
<rect x="668.0" y="472.0" width="22.5" height="5.2" rx="2.6" fill="#000" opacity="0.90" filter="url(#b1)"/>
<rect x="695.0" y="472.0" width="22.5" height="5.2" rx="2.6" fill="#000" opacity="0.92" filter="url(#b1)"/>
<rect x="530.2" y="479.9" width="22.8" height="5.8" rx="2.9" fill="#000" opacity="0.45" filter="url(#b1)"/>
<rect x="556.9" y="479.9" width="22.8" height="5.8" rx="2.9" fill="#000" opacity="0.86" filter="url(#b1)"/>
<rect x="584.4" y="479.9" width="22.8" height="5.8" rx="2.9" fill="#000" opacity="0.86" filter="url(#b1)"/>
<rect x="640.2" y="479.9" width="22.8" height="5.8" rx="2.9" fill="#000" opacity="0.86" filter="url(#b1)"/>
<rect x="667.8" y="479.9" width="22.8" height="5.8" rx="2.9" fill="#000" opacity="0.95" filter="url(#b1)"/>
<rect x="694.9" y="479.9" width="22.8" height="5.8" rx="2.9" fill="#000" opacity="0.95" filter="url(#b1)"/>
<rect x="530.6" y="473.0" width="22.0" height="12.0" rx="3.0" fill="#000" opacity="0.12" filter="url(#b15)"/>
<rect x="557.3" y="473.0" width="22.0" height="12.0" rx="3.0" fill="#000" opacity="0.40" filter="url(#b15)"/>
<rect x="584.8" y="473.0" width="22.0" height="12.0" rx="3.0" fill="#000" opacity="0.40" filter="url(#b15)"/>
<rect x="640.6" y="473.0" width="22.0" height="12.0" rx="3.0" fill="#000" opacity="0.40" filter="url(#b15)"/>
<rect x="668.2" y="473.0" width="22.0" height="12.0" rx="3.0" fill="#000" opacity="0.62" filter="url(#b15)"/>
<rect x="695.3" y="473.0" width="22.0" height="12.0" rx="3.0" fill="#000" opacity="0.62" filter="url(#b15)"/>
</g>
<clipPath id="cp14"><rect x="497.8" y="493.7" width="225.8" height="15.7"/></clipPath>
<rect x="497.8" y="493.7" width="225.8" height="15.7" fill="#b2b2b2"/>
<g clip-path="url(#cp14)">

<rect x="500.8" y="495.6" width="25.0" height="7.2" rx="3.0" fill="#000" opacity="0.55" filter="url(#b15)"/>
<rect x="529.1" y="496.6" width="25.0" height="7.2" rx="3.0" fill="#000" opacity="0.60" filter="url(#b15)"/>
<rect x="555.3" y="496.6" width="25.0" height="7.2" rx="3.0" fill="#000" opacity="0.62" filter="url(#b15)"/>
<rect x="582.8" y="496.6" width="25.0" height="7.2" rx="3.0" fill="#000" opacity="0.62" filter="url(#b15)"/>
<rect x="610.3" y="496.6" width="25.0" height="7.2" rx="3.0" fill="#000" opacity="0.52" filter="url(#b15)"/>
<rect x="637.9" y="496.6" width="25.0" height="7.2" rx="3.0" fill="#000" opacity="0.60" filter="url(#b15)"/>
<rect x="664.9" y="496.6" width="25.0" height="7.2" rx="3.0" fill="#000" opacity="0.64" filter="url(#b15)"/>
<rect x="693.0" y="496.6" width="25.0" height="7.2" rx="3.0" fill="#000" opacity="0.55" filter="url(#b15)"/>
</g>
<g clip-path="url(#cp14)"><ellipse cx="527.5" cy="499.3" rx="3.2" ry="5" fill="#fff" opacity=".8" filter="url(#b1)"/><ellipse cx="554.5" cy="499.3" rx="3.2" ry="5" fill="#fff" opacity=".8" filter="url(#b1)"/><ellipse cx="582.0" cy="499.3" rx="3.2" ry="5" fill="#fff" opacity=".8" filter="url(#b1)"/><ellipse cx="609.8" cy="499.3" rx="3.2" ry="5" fill="#fff" opacity=".8" filter="url(#b1)"/><ellipse cx="636.6" cy="499.3" rx="3.2" ry="5" fill="#fff" opacity=".8" filter="url(#b1)"/><ellipse cx="663.4" cy="499.3" rx="3.2" ry="5" fill="#fff" opacity=".8" filter="url(#b1)"/><ellipse cx="690.2" cy="499.3" rx="3.2" ry="5" fill="#fff" opacity=".8" filter="url(#b1)"/></g>
<clipPath id="cp15"><rect x="497.8" y="514.2" width="225.8" height="20.1"/></clipPath>
<rect x="497.8" y="514.2" width="225.8" height="20.1" fill="#d2d2d2"/>
<g clip-path="url(#cp15)">
<path d="M499.0 521.2 Q510.0 521.5 516.5 521.9 L523.0 522.2" fill="none" stroke="#000" stroke-width="1.5" stroke-linecap="round" opacity="0.45" filter="url(#b08)"/><path d="M527.0 523.0 Q535.0 523.0 541.5 523.6 Q548.0 524.2 555.0 524.5 Q562.0 524.8 568.5 525.1 Q575.0 525.5 582.5 525.8 Q590.0 526.0 595.0 526.0 Q600.0 526.0 603.8 526.2 L607.5 526.5" fill="none" stroke="#000" stroke-width="3.6" stroke-linecap="round" opacity="0.90" filter="url(#b08)"/><path d="M610.0 526.6 Q622.0 526.3 627.0 526.3 L632.0 526.4" fill="none" stroke="#000" stroke-width="1.5" stroke-linecap="round" opacity="0.35" filter="url(#b08)"/><path d="M635.0 527.0 Q645.0 527.2 652.5 527.1 Q660.0 527.0 667.5 527.0 Q675.0 527.0 682.5 526.8 Q690.0 526.5 697.5 525.8 Q705.0 525.0 710.5 524.3 Q716.0 523.6 719.2 523.2 L722.5 522.8" fill="none" stroke="#000" stroke-width="3.8" stroke-linecap="round" opacity="0.92" filter="url(#b08)"/>
</g>
<clipPath id="cp16"><rect x="497.8" y="536" width="225.8" height="90.8"/></clipPath>
<rect x="497.8" y="536" width="225.8" height="90.8" fill="#b6b6b6"/>
<g clip-path="url(#cp16)">
<rect x="497" y="552" width="30" height="76" fill="#fff" opacity=".18" filter="url(#b3)"/><path d="M497.0 542.4 Q512.0 543.6 520.0 544.3 L528.0 545.0" fill="none" stroke="#000" stroke-width="5.4" stroke-linecap="round" opacity="0.97" filter="url(#b08)"/><path d="M530.0 546.0 L607.0 546.0" fill="none" stroke="#000" stroke-width="10.4" stroke-linecap="round" opacity="1.00" filter="url(#b08)"/><path d="M607.0 547.4 L637.0 547.4" fill="none" stroke="#000" stroke-width="5.8" stroke-linecap="round" opacity="0.97" filter="url(#b08)"/><path d="M639.0 546.5 L722.0 546.5" fill="none" stroke="#000" stroke-width="11.2" stroke-linecap="round" opacity="1.00" filter="url(#b08)"/>
<rect x="528.1" y="543.0" width="27.0" height="84.0" rx="3.0" fill="#000" opacity="0.05" filter="url(#b3)"/>
<rect x="554.3" y="543.0" width="27.0" height="84.0" rx="3.0" fill="#000" opacity="0.05" filter="url(#b3)"/>
<rect x="581.8" y="543.0" width="27.0" height="84.0" rx="3.0" fill="#000" opacity="0.05" filter="url(#b3)"/>
<rect x="636.9" y="543.0" width="27.0" height="84.0" rx="3.0" fill="#000" opacity="0.10" filter="url(#b3)"/>
<rect x="663.9" y="543.0" width="27.0" height="84.0" rx="3.0" fill="#000" opacity="0.12" filter="url(#b3)"/>
<rect x="692.0" y="543.0" width="27.0" height="84.0" rx="3.0" fill="#000" opacity="0.12" filter="url(#b3)"/>
<rect x="528.1" y="534.0" width="27.0" height="8.0" rx="3.0" fill="#000" opacity="0.35" filter="url(#b15)"/>
<rect x="554.3" y="534.0" width="27.0" height="8.0" rx="3.0" fill="#000" opacity="0.35" filter="url(#b15)"/>
<rect x="581.8" y="534.0" width="27.0" height="8.0" rx="3.0" fill="#000" opacity="0.35" filter="url(#b15)"/>
<rect x="636.9" y="534.0" width="27.0" height="8.0" rx="3.0" fill="#000" opacity="0.35" filter="url(#b15)"/>
<rect x="663.9" y="534.0" width="27.0" height="8.0" rx="3.0" fill="#000" opacity="0.40" filter="url(#b15)"/>
<rect x="692.0" y="534.0" width="27.0" height="8.0" rx="3.0" fill="#000" opacity="0.40" filter="url(#b15)"/>
<rect x="528.6" y="551.5" width="26.0" height="8.0" rx="3.0" fill="#000" opacity="0.30" filter="url(#b1)"/>
<rect x="554.8" y="551.5" width="26.0" height="8.0" rx="3.0" fill="#000" opacity="0.35" filter="url(#b1)"/>
<rect x="582.3" y="551.5" width="26.0" height="8.0" rx="3.0" fill="#000" opacity="0.35" filter="url(#b1)"/>
<rect x="637.4" y="551.5" width="26.0" height="8.0" rx="3.0" fill="#000" opacity="0.50" filter="url(#b1)"/>
<rect x="664.4" y="551.5" width="26.0" height="8.0" rx="3.0" fill="#000" opacity="0.55" filter="url(#b1)"/>
<rect x="692.5" y="551.5" width="26.0" height="8.0" rx="3.0" fill="#000" opacity="0.55" filter="url(#b1)"/>
<rect x="529.1" y="553.1" width="25.0" height="2.6" rx="1.3" fill="#000" opacity="0.55" filter="url(#b08)"/>
<rect x="555.3" y="553.1" width="25.0" height="2.6" rx="1.3" fill="#000" opacity="0.60" filter="url(#b08)"/>
<rect x="582.8" y="553.1" width="25.0" height="2.6" rx="1.3" fill="#000" opacity="0.60" filter="url(#b08)"/>
<rect x="637.9" y="553.1" width="25.0" height="2.6" rx="1.3" fill="#000" opacity="0.72" filter="url(#b08)"/>
<rect x="664.9" y="553.1" width="25.0" height="2.6" rx="1.3" fill="#000" opacity="0.78" filter="url(#b08)"/>
<rect x="693.0" y="553.1" width="25.0" height="2.6" rx="1.3" fill="#000" opacity="0.78" filter="url(#b08)"/>
<rect x="529.1" y="556.8" width="25.0" height="2.4" rx="1.2" fill="#000" opacity="0.45" filter="url(#b08)"/>
<rect x="555.3" y="556.8" width="25.0" height="2.4" rx="1.2" fill="#000" opacity="0.50" filter="url(#b08)"/>
<rect x="582.8" y="556.8" width="25.0" height="2.4" rx="1.2" fill="#000" opacity="0.50" filter="url(#b08)"/>
<rect x="637.9" y="556.8" width="25.0" height="2.4" rx="1.2" fill="#000" opacity="0.62" filter="url(#b08)"/>
<rect x="664.9" y="556.8" width="25.0" height="2.4" rx="1.2" fill="#000" opacity="0.68" filter="url(#b08)"/>
<rect x="693.0" y="556.8" width="25.0" height="2.4" rx="1.2" fill="#000" opacity="0.68" filter="url(#b08)"/>
<rect x="499.3" y="571.9" width="28.0" height="4.4" rx="2.2" fill="#000" opacity="0.03" filter="url(#b1)"/>
<rect x="527.6" y="571.9" width="28.0" height="4.4" rx="2.2" fill="#000" opacity="0.66" filter="url(#b1)"/>
<rect x="553.8" y="571.9" width="28.0" height="4.4" rx="2.2" fill="#000" opacity="0.70" filter="url(#b1)"/>
<rect x="581.3" y="571.9" width="28.0" height="4.4" rx="2.2" fill="#000" opacity="0.66" filter="url(#b1)"/>
<rect x="608.8" y="571.9" width="28.0" height="4.4" rx="2.2" fill="#000" opacity="0.06" filter="url(#b1)"/>
<rect x="636.4" y="571.9" width="28.0" height="4.4" rx="2.2" fill="#000" opacity="0.85" filter="url(#b1)"/>
<rect x="663.4" y="571.9" width="28.0" height="4.4" rx="2.2" fill="#000" opacity="0.90" filter="url(#b1)"/>
<rect x="691.5" y="571.9" width="28.0" height="4.4" rx="2.2" fill="#000" opacity="0.90" filter="url(#b1)"/>
<rect x="529.1" y="592.6" width="25.0" height="4.0" rx="2.0" fill="#000" opacity="0.14" filter="url(#b1)"/>
<rect x="555.3" y="592.6" width="25.0" height="4.0" rx="2.0" fill="#000" opacity="0.33" filter="url(#b1)"/>
<rect x="582.8" y="592.6" width="25.0" height="4.0" rx="2.0" fill="#000" opacity="0.30" filter="url(#b1)"/>
<rect x="637.9" y="592.6" width="25.0" height="4.0" rx="2.0" fill="#000" opacity="0.60" filter="url(#b1)"/>
<rect x="664.9" y="592.6" width="25.0" height="4.0" rx="2.0" fill="#000" opacity="0.84" filter="url(#b1)"/>
<rect x="693.0" y="592.6" width="25.0" height="4.0" rx="2.0" fill="#000" opacity="0.86" filter="url(#b1)"/>
<rect x="530.1" y="600.9" width="23.0" height="3.4" rx="1.7" fill="#000" opacity="0.04" filter="url(#b1)"/>
<rect x="556.3" y="600.9" width="23.0" height="3.4" rx="1.7" fill="#000" opacity="0.06" filter="url(#b1)"/>
<rect x="583.8" y="600.9" width="23.0" height="3.4" rx="1.7" fill="#000" opacity="0.07" filter="url(#b1)"/>
<rect x="638.9" y="600.9" width="23.0" height="3.4" rx="1.7" fill="#000" opacity="0.12" filter="url(#b1)"/>
<rect x="665.9" y="600.9" width="23.0" height="3.4" rx="1.7" fill="#000" opacity="0.45" filter="url(#b1)"/>
<rect x="694.0" y="600.9" width="23.0" height="3.4" rx="1.7" fill="#000" opacity="0.45" filter="url(#b1)"/>
<rect x="529.1" y="616.6" width="25.0" height="4.0" rx="2.0" fill="#000" opacity="0.08" filter="url(#b1)"/>
<rect x="555.3" y="616.6" width="25.0" height="4.0" rx="2.0" fill="#000" opacity="0.13" filter="url(#b1)"/>
<rect x="582.8" y="616.6" width="25.0" height="4.0" rx="2.0" fill="#000" opacity="0.28" filter="url(#b1)"/>
<rect x="637.9" y="616.6" width="25.0" height="4.0" rx="2.0" fill="#000" opacity="0.60" filter="url(#b1)"/>
<rect x="664.9" y="616.6" width="25.0" height="4.0" rx="2.0" fill="#000" opacity="0.84" filter="url(#b1)"/>
<rect x="693.0" y="616.6" width="25.0" height="4.0" rx="2.0" fill="#000" opacity="0.84" filter="url(#b1)"/>
</g>
<clipPath id="cp17"><rect x="497.8" y="629" width="225.8" height="18.0"/></clipPath>
<rect x="497.8" y="629" width="225.8" height="18.0" fill="#bababa"/>
<g clip-path="url(#cp17)">
<path d="M499.0 635.2 Q512.0 635.8 518.5 636.5 Q525.0 637.3 532.5 637.8 Q540.0 638.2 548.0 638.3 Q556.0 638.4 562.0 638.6 Q568.0 638.9 575.0 639.0 Q582.0 639.0 589.0 639.0 Q596.0 639.0 603.0 639.0 Q610.0 639.0 616.5 639.0 Q623.0 639.0 631.5 638.9 Q640.0 638.8 647.5 638.7 Q655.0 638.6 661.5 638.6 Q668.0 638.6 674.0 638.4 Q680.0 638.2 687.5 637.8 Q695.0 637.4 701.5 637.0 Q708.0 636.7 715.2 636.4 L722.5 636.0" fill="none" stroke="#000" stroke-width="4.2" stroke-linecap="round" opacity="0.88" filter="url(#b08)"/>
</g>
<g class="pc">
<text x="45.0" y="388.0" font-size="16.7" textLength="72.5" lengthAdjust="spacingAndGlyphs">time (hours)</text>
<text x="152.8" y="364.4" font-size="15.2" textLength="54.3" lengthAdjust="spacingAndGlyphs">RIP1-WT</text>
<text x="250.6" y="364.4" font-size="15.2" textLength="78.0" lengthAdjust="spacingAndGlyphs">RIP1-K377R</text>
<polyline fill="none" stroke="#111" stroke-width="1.9" stroke-linejoin="round" points="130.0,375.4 130.0,370.0 229.6,370.0 229.6,375.4"/>
<polyline fill="none" stroke="#111" stroke-width="1.9" stroke-linejoin="round" points="238.7,375.4 238.7,370.0 340.2,370.0 340.2,375.4"/>
<text x="137.4" y="389.0" font-size="12.3" text-anchor="middle" textLength="6.6" lengthAdjust="spacingAndGlyphs">0</text>
<text x="168.2" y="389.0" font-size="12.3" text-anchor="middle" textLength="6.6" lengthAdjust="spacingAndGlyphs">2</text>
<text x="194.7" y="389.0" font-size="12.3" text-anchor="middle" textLength="6.6" lengthAdjust="spacingAndGlyphs">4</text>
<text x="220.0" y="389.0" font-size="12.3" text-anchor="middle" textLength="6.6" lengthAdjust="spacingAndGlyphs">8</text>
<text x="247.9" y="389.0" font-size="12.3" text-anchor="middle" textLength="6.6" lengthAdjust="spacingAndGlyphs">0</text>
<text x="274.4" y="389.0" font-size="12.3" text-anchor="middle" textLength="6.6" lengthAdjust="spacingAndGlyphs">2</text>
<text x="301.2" y="389.0" font-size="12.3" text-anchor="middle" textLength="6.6" lengthAdjust="spacingAndGlyphs">4</text>
<text x="326.6" y="389.0" font-size="12.3" text-anchor="middle" textLength="6.6" lengthAdjust="spacingAndGlyphs">8</text>
<polyline fill="none" stroke="#111" stroke-width="1.9" stroke-linejoin="round" points="122.0,394.3 116.8,394.3 116.8,459.5 122.0,459.5"/>
<text x="57.4" y="430.9" font-size="13.5" textLength="53.8" lengthAdjust="spacingAndGlyphs">Caspase8</text>
<text x="57.4" y="475.1" font-size="13.5" textLength="53.2" lengthAdjust="spacingAndGlyphs">Caspase3</text>
<text x="112.3" y="497.1" font-size="12.5" text-anchor="end" textLength="37.1" lengthAdjust="spacingAndGlyphs" font-family='"DejaVu Sans Condensed", "DejaVu Sans", "Liberation Sans", sans-serif' class='dj'>tubulin</text>
<text x="112.0" y="532.0" font-size="12.5" text-anchor="end" textLength="28.8" lengthAdjust="spacingAndGlyphs" font-family='"DejaVu Sans Condensed", "DejaVu Sans", "Liberation Sans", sans-serif' class='dj'>PARP</text>
<text x="112.0" y="559.7" font-size="12.5" text-anchor="end" textLength="28.8" lengthAdjust="spacingAndGlyphs" font-family='"DejaVu Sans Condensed", "DejaVu Sans", "Liberation Sans", sans-serif' class='dj'>PARP</text>
<text x="112.4" y="577.6" font-size="12.5" text-anchor="end" textLength="60.5" lengthAdjust="spacingAndGlyphs" font-family='"DejaVu Sans Condensed", "DejaVu Sans", "Liberation Sans", sans-serif' class='dj'>(long exp.)</text>
<text x="113.0" y="634.6" font-size="12.5" text-anchor="end" textLength="26.7" lengthAdjust="spacingAndGlyphs" font-family='"DejaVu Sans Condensed", "DejaVu Sans", "Liberation Sans", sans-serif' class='dj'>PLCg</text>
<text x="352.4" y="405.0" font-size="13.2" textLength="19.2" lengthAdjust="spacingAndGlyphs">p57</text>
<text x="352.4" y="433.3" font-size="13.2" textLength="35.2" lengthAdjust="spacingAndGlyphs">p43/41</text>
<text x="352.4" y="454.0" font-size="13.2" textLength="19.2" lengthAdjust="spacingAndGlyphs">p18</text>
<text x="352.4" y="475.8" font-size="13.2" textLength="35.2" lengthAdjust="spacingAndGlyphs">p17/19</text>
<text x="352.6" y="532.0" font-size="13.2" textLength="19.2" lengthAdjust="spacingAndGlyphs">p89</text>
<text x="352.6" y="549.1" font-size="13.2" textLength="19.2" lengthAdjust="spacingAndGlyphs">p89</text>
<polyline fill="none" stroke="#111" stroke-width="1.6" stroke-linejoin="round" points="350.6,554.5 356.0,554.5 356.0,620.3 350.6,620.3"/>
<text x="364.9" y="577.6" font-size="13" textLength="29.0" lengthAdjust="spacingAndGlyphs">PARP</text>
<text x="364.9" y="591.5" font-size="13" textLength="46.2" lengthAdjust="spacingAndGlyphs">cleavage</text>
<text x="364.9" y="604.3" font-size="13" textLength="44.2" lengthAdjust="spacingAndGlyphs">products</text>
<text x="417.9" y="386.8" font-size="17" textLength="73.0" lengthAdjust="spacingAndGlyphs">TNF (ng/ml)</text>
<text x="526.5" y="364.8" font-size="16.2" textLength="55.0" lengthAdjust="spacingAndGlyphs">RIP1-WT</text>
<text x="625.4" y="365.2" font-size="16.2" textLength="78.8" lengthAdjust="spacingAndGlyphs">RIP1-K377R</text>
<polyline fill="none" stroke="#111" stroke-width="1.9" stroke-linejoin="round" points="504.0,377.0 504.0,372.2 605.7,372.2 605.7,377.0"/>
<polyline fill="none" stroke="#111" stroke-width="1.9" stroke-linejoin="round" points="613.1,377.0 613.1,372.2 715.5,372.2 715.5,377.0"/>
<text x="512.8" y="388.8" font-size="12.3" text-anchor="middle" textLength="6.4" lengthAdjust="spacingAndGlyphs">0</text>
<text x="539.7" y="388.8" font-size="12.3" text-anchor="middle" textLength="15.8" lengthAdjust="spacingAndGlyphs">0.5</text>
<text x="566.7" y="388.8" font-size="12.3" text-anchor="middle" textLength="15.8" lengthAdjust="spacingAndGlyphs">1.0</text>
<text x="594.2" y="388.8" font-size="12.3" text-anchor="middle" textLength="15.8" lengthAdjust="spacingAndGlyphs">2.0</text>
<text x="622.3" y="388.8" font-size="12.3" text-anchor="middle" textLength="6.4" lengthAdjust="spacingAndGlyphs">0</text>
<text x="649.8" y="388.8" font-size="12.3" text-anchor="middle" textLength="15.8" lengthAdjust="spacingAndGlyphs">0.5</text>
<text x="676.1" y="388.8" font-size="12.3" text-anchor="middle" textLength="15.8" lengthAdjust="spacingAndGlyphs">1.0</text>
<text x="703.6" y="388.8" font-size="12.3" text-anchor="middle" textLength="15.8" lengthAdjust="spacingAndGlyphs">2.0</text>
<polyline fill="none" stroke="#111" stroke-width="2.0" stroke-linejoin="round" points="497.2,394.2 493.5,394.2 493.5,465.1 497.2,465.1"/>
<text x="433.9" y="434.3" font-size="15" textLength="53.7" lengthAdjust="spacingAndGlyphs">Caspase8</text>
<text x="433.9" y="481.3" font-size="15" textLength="53.3" lengthAdjust="spacingAndGlyphs">Caspase3</text>
<text x="489.3" y="507.6" font-size="14.2" text-anchor="end" textLength="37.3" lengthAdjust="spacingAndGlyphs" font-family='"DejaVu Sans Condensed", "DejaVu Sans", "Liberation Sans", sans-serif' class='dj'>tubulin</text>
<text x="489.0" y="528.5" font-size="14.2" text-anchor="end" textLength="29.0" lengthAdjust="spacingAndGlyphs" font-family='"DejaVu Sans Condensed", "DejaVu Sans", "Liberation Sans", sans-serif' class='dj'>PARP</text>
<text x="489.0" y="550.4" font-size="14.2" text-anchor="end" textLength="29.0" lengthAdjust="spacingAndGlyphs" font-family='"DejaVu Sans Condensed", "DejaVu Sans", "Liberation Sans", sans-serif' class='dj'>PARP</text>
<text x="489.3" y="569.2" font-size="14.2" text-anchor="end" textLength="60.7" lengthAdjust="spacingAndGlyphs" font-family='"DejaVu Sans Condensed", "DejaVu Sans", "Liberation Sans", sans-serif' class='dj'>(long exp.)</text>
<text x="489.6" y="644.5" font-size="14.2" text-anchor="end" textLength="27.0" lengthAdjust="spacingAndGlyphs" font-family='"DejaVu Sans Condensed", "DejaVu Sans", "Liberation Sans", sans-serif' class='dj'>PLCg</text>
<text x="726.3" y="408.2" font-size="14" textLength="18.3" lengthAdjust="spacingAndGlyphs">p57</text>
<text x="726.3" y="439.9" font-size="14" textLength="34.7" lengthAdjust="spacingAndGlyphs">p43/41</text>
<text x="726.3" y="460.3" font-size="14" textLength="18.3" lengthAdjust="spacingAndGlyphs">p18</text>
<text x="726.3" y="480.9" font-size="14" textLength="35.0" lengthAdjust="spacingAndGlyphs">p17/19</text>
<text x="725.9" y="527.0" font-size="14" textLength="19.1" lengthAdjust="spacingAndGlyphs">p89</text>
<text x="725.9" y="545.2" font-size="14" textLength="19.1" lengthAdjust="spacingAndGlyphs">p89</text>
<polyline fill="none" stroke="#111" stroke-width="1.6" stroke-linejoin="round" points="726.8,550.3 732.2,550.3 732.2,623.0 726.8,623.0"/>
<text x="738.4" y="575.3" font-size="13.5" textLength="30.3" lengthAdjust="spacingAndGlyphs">PARP</text>
<text x="738.4" y="590.1" font-size="13.5" textLength="45.5" lengthAdjust="spacingAndGlyphs">cleavage</text>
<text x="738.4" y="604.8" font-size="13.5" textLength="44.2" lengthAdjust="spacingAndGlyphs">products</text>
</g>
</svg></body></html>
